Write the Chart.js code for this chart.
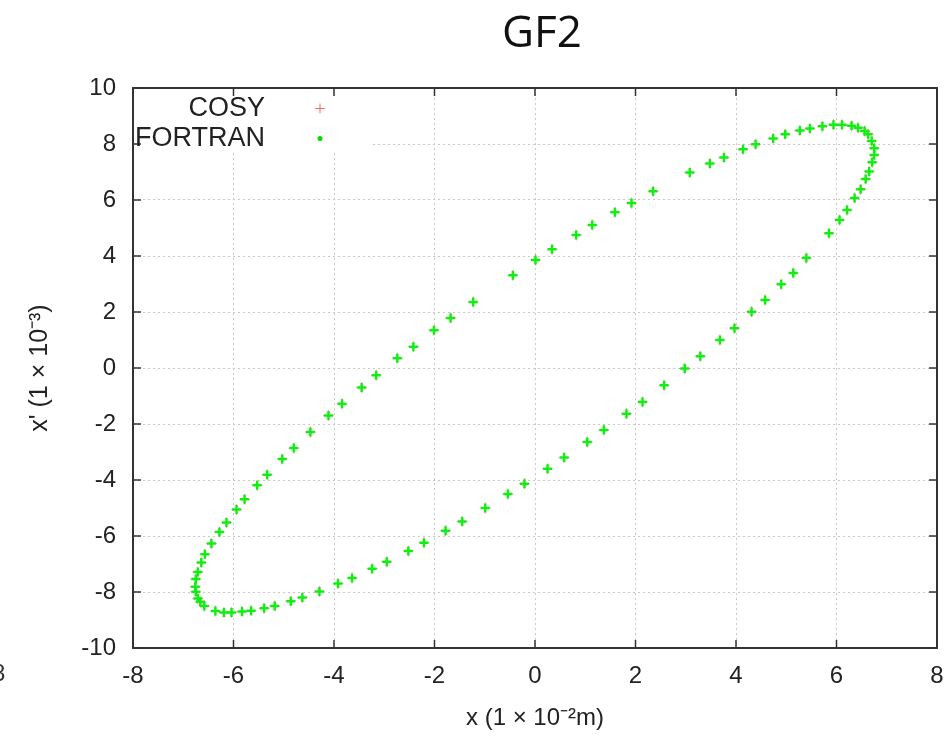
<!DOCTYPE html>
<html>
<head>
<meta charset="utf-8">
<script src="https://cdn.jsdelivr.net/npm/chart.js@4.4.1/dist/chart.umd.min.js"></script>
<style>
  html, body { margin: 0; padding: 0; background: #fff; }
  #wrap { width: 949px; height: 739px; }
</style>
</head>
<body>
<div id="wrap"><canvas id="gf2Chart" width="949" height="739"></canvas></div>
<script>
// phase space points (x in 1e-2 m, x' in 1e-3)
const xValues = [
  -6.75, -6.71, -6.64, -6.57, -6.44, -6.28, -6.14, -5.94, -5.78, -5.53,
  -5.33, -5.03, -4.80, -4.47, -4.11, -3.84, -3.45, -3.16, -2.74, -2.42,
  -2.01, -1.68, -1.23, -0.44, 0.01, 0.34, 0.82, 1.14, 1.59, 1.92,
  2.35, 3.08, 3.48, 3.76, 4.14, 4.39, 4.74, 4.98, 5.27, 5.47,
  5.72, 5.94, 6.11, 6.30, 6.43, 6.56, 6.63, 6.70, 6.75, 6.75,
  6.71, 6.65, 6.58, 6.48, 6.36, 6.21, 6.06, 5.85, 5.40, 5.14,
  4.90, 4.58, 4.31, 3.97, 3.68, 3.29, 2.98, 2.57, 2.14, 1.82,
  1.37, 1.04, 0.58, 0.25, -0.21, -0.54, -0.99, -1.45, -1.78, -2.21,
  -2.52, -2.95, -3.24, -3.64, -3.92, -4.29, -4.63, -4.86, -5.18, -5.39,
  -5.65, -5.83, -6.04, -6.19, -6.36, -6.58, -6.66, -6.71, -6.75, -6.76
];
const yValues = [
  -7.54, -7.29, -6.95, -6.65, -6.27, -5.86, -5.52, -5.05, -4.69, -4.19,
  -3.81, -3.25, -2.86, -2.29, -1.70, -1.28, -0.70, -0.26, 0.35, 0.76,
  1.35, 1.79, 2.36, 3.31, 3.86, 4.24, 4.75, 5.11, 5.56, 5.89,
  6.31, 6.98, 7.30, 7.52, 7.81, 7.99, 8.20, 8.35, 8.48, 8.55,
  8.63, 8.69, 8.69, 8.65, 8.58, 8.46, 8.35, 8.11, 7.85, 7.61,
  7.35, 7.02, 6.75, 6.38, 6.07, 5.64, 5.29, 4.81, 3.93, 3.39,
  2.99, 2.43, 2.01, 1.42, 1.00, 0.42, -0.02, -0.62, -1.21, -1.63,
  -2.21, -2.64, -3.20, -3.60, -4.13, -4.50, -5.00, -5.48, -5.81, -6.24,
  -6.54, -6.92, -7.17, -7.50, -7.70, -7.98, -8.20, -8.33, -8.50, -8.58,
  -8.67, -8.70, -8.73, -8.73, -8.68, -8.50, -8.35, -8.23, -7.99, -7.81
];
const seriesNames = ["COSY", "FORTRAN"];
const xTicks = [-8, -6, -4, -2, 0, 2, 4, 6, 8];
const yTicks = [-10, -8, -6, -4, -2, 0, 2, 4, 6, 8, 10];

const tickFont = { family: "'Liberation Sans', Arial, sans-serif", size: 24 };
const points = xValues.map((x, i) => ({ x: x, y: yValues[i] }));

// gnuplot-like frame, mirrored inward ticks, title and inset key
const gnuplotDecor = {
  id: "gnuplotDecor",
  afterDraw(chart) {
    const { ctx, chartArea: a, scales } = chart;
    ctx.save();

    // key box
    ctx.fillStyle = "#fff";
    ctx.fillRect(a.left, a.top, 240, 65);

    // frame
    ctx.strokeStyle = "#333";
    ctx.lineWidth = 2;
    ctx.strokeRect(a.left, a.top, a.right - a.left, a.bottom - a.top);

    // inward ticks on all four sides
    ctx.lineWidth = 1.5;
    ctx.beginPath();
    xTicks.forEach((v) => {
      const px = scales.x.getPixelForValue(v);
      ctx.moveTo(px, a.bottom); ctx.lineTo(px, a.bottom - 8);
      ctx.moveTo(px, a.top); ctx.lineTo(px, a.top + 8);
    });
    yTicks.forEach((v) => {
      const py = scales.y.getPixelForValue(v);
      ctx.moveTo(a.left, py); ctx.lineTo(a.left + 8, py);
      ctx.moveTo(a.right, py); ctx.lineTo(a.right - 8, py);
    });
    ctx.stroke();

    // key
    ctx.fillStyle = "#222";
    ctx.font = "27px 'Liberation Sans', Arial, sans-serif";
    ctx.textAlign = "right";
    ctx.textBaseline = "middle";
    ctx.fillText(seriesNames[0], 265, 109);
    ctx.fillText(seriesNames[1], 265, 139);
    ctx.strokeStyle = "rgba(255,70,70,0.8)";
    ctx.lineWidth = 1;
    ctx.beginPath();
    ctx.moveTo(315, 108.5); ctx.lineTo(325, 108.5);
    ctx.moveTo(320, 103.5); ctx.lineTo(320, 113.5);
    ctx.stroke();
    ctx.fillStyle = "#00dd00";
    ctx.beginPath();
    ctx.arc(320, 138.5, 2.5, 0, Math.PI * 2);
    ctx.fill();

    // title
    ctx.fillStyle = "#111";
    ctx.textAlign = "center";
    ctx.font = "44px 'Open Sans', 'Noto Sans', sans-serif";
    ctx.fillText("GF2", 542, 34);

    // clipped label from the neighbouring panel
    ctx.textAlign = "left";
    ctx.fillStyle = "#333";
    ctx.font = "24px 'Liberation Sans', Arial, sans-serif";
    ctx.fillText("8", -8, 674);

    ctx.restore();
  },
};

const ctx = document.getElementById("gf2Chart").getContext("2d");

new Chart(ctx, {
  type: "scatter",
  data: {
    datasets: [
      {
        label: seriesNames[0],
        data: points,
        pointStyle: "cross",
        pointRadius: 5.5,
        borderWidth: 1,
        borderColor: "rgba(255,80,80,0.55)",
        backgroundColor: "rgba(255,80,80,0.55)",
        order: 2,
      },
      {
        label: seriesNames[1],
        data: points,
        pointStyle: "cross",
        pointRadius: 4.5,
        borderWidth: 2.5,
        borderColor: "#11ee11",
        backgroundColor: "#11ee11",
        order: 1,
      },
    ],
  },
  options: {
    responsive: false,
    animation: false,
    events: [],
    layout: { padding: { top: 88, right: 12, left: 0, bottom: 0 } },
    plugins: {
      legend: { display: false },
      tooltip: { enabled: false },
      title: { display: false },
    },
    scales: {
      x: {
        type: "linear",
        min: -8,
        max: 8,
        afterFit: (scale) => {
          scale.height = 91;
          scale.paddingLeft = 0;
          scale.paddingRight = 0;
        },
        afterBuildTicks: (scale) => { scale.ticks = xTicks.map((v) => ({ value: v })); },
        grid: {
          color: "#c9c9c9",
          lineWidth: 1,
          drawTicks: false,
        },
        border: { display: false, dash: [2, 3] },
        ticks: {
          color: "#222",
          font: tickFont,
          padding: 14,
        },
        title: {
          display: true,
          text: "x (1 × 10⁻²m)",
          color: "#222",
          font: { family: "'Liberation Sans', Arial, sans-serif", size: 24 },
          padding: { top: 0, bottom: 6 },
        },
      },
      y: {
        type: "linear",
        min: -10,
        max: 10,
        afterFit: (scale) => {
          scale.width = 133;
          scale.paddingTop = 0;
          scale.paddingBottom = 0;
        },
        afterBuildTicks: (scale) => { scale.ticks = yTicks.map((v) => ({ value: v })); },
        grid: {
          color: "#c9c9c9",
          lineWidth: 1,
          drawTicks: false,
        },
        border: { display: false, dash: [2, 3] },
        ticks: {
          color: "#222",
          font: tickFont,
          padding: 17,
        },
        title: {
          display: true,
          text: "x' (1 × 10⁻³)",
          color: "#222",
          font: { family: "'Liberation Sans', Arial, sans-serif", size: 25 },
          padding: { top: 25, bottom: 0 },
        },
      },
    },
  },
  plugins: [gnuplotDecor],
});
</script>
</body>
</html>
